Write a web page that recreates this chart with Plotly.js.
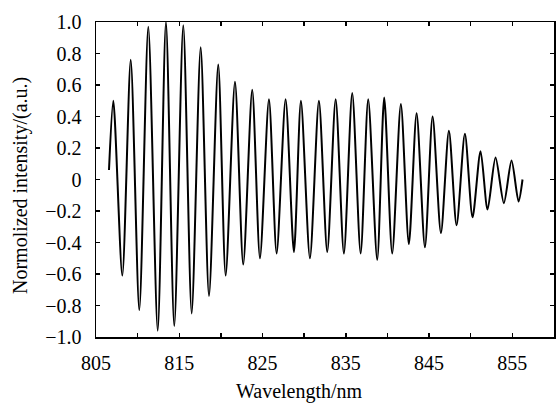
<!DOCTYPE html>
<html>
<head>
<meta charset="utf-8">
<script src="https://cdn.plot.ly/plotly-3.0.1.min.js"></script>
<style>html,body{margin:0;padding:0;background:#fff;}#chart{width:556px;height:403px;}</style>
</head>
<body>
<div id="chart"></div>
<script>
// Wavelength (nm) of sampled turning points along the fringe trace
var wavelength = [806.56, 807.08, 808.16, 809.17, 810.20, 811.28, 812.41, 813.40, 814.40, 815.48,
  816.49, 817.57, 818.57, 819.68, 820.57, 821.69, 822.68, 823.76, 824.69, 825.77,
  826.69, 827.77, 828.77, 829.61, 830.69, 831.77, 832.77, 833.78, 834.77, 835.77,
  836.78, 837.69, 838.77, 839.61, 840.57, 841.61, 842.57, 843.50, 844.50, 845.42,
  846.42, 847.38, 848.30, 849.30, 850.22, 851.18, 852.02, 852.98, 853.98, 854.90,
  855.74, 856.22];
// Normalized intensity (a.u.)
var intensity = [0.06, 0.50, -0.61, 0.76, -0.83, 0.97, -0.96, 1.00, -0.93, 0.98,
  -0.85, 0.84, -0.74, 0.73, -0.61, 0.62, -0.54, 0.57, -0.50, 0.51,
  -0.47, 0.51, -0.46, 0.50, -0.50, 0.50, -0.46, 0.51, -0.47, 0.55,
  -0.47, 0.51, -0.51, 0.52, -0.47, 0.48, -0.41, 0.42, -0.43, 0.40,
  -0.34, 0.31, -0.29, 0.29, -0.24, 0.18, -0.19, 0.14, -0.15, 0.12,
  -0.14, 0.00];

var xTickVals = [805, 810, 815, 820, 825, 830, 835, 840, 845, 850, 855, 860];
var xTickText = ['805', '', '815', '', '825', '', '835', '', '845', '', '855', ''];
var yTickVals = [-1.0, -0.8, -0.6, -0.4, -0.2, 0, 0.2, 0.4, 0.6, 0.8, 1.0];
var yTickText = ['\u22121.0', '\u22120.8', '\u22120.6', '\u22120.4', '\u22120.2', '0', '0.2', '0.4', '0.6', '0.8', '1.0'];
var xTitle = 'Wavelength/nm';
var yTitle = 'Normolized intensity/(a.u.)';

var font = {family: 'Liberation Serif, Times New Roman, serif', size: 20, color: '#000'};

var trace = {
  x: wavelength, y: intensity, type: 'scatter', mode: 'lines',
  line: {color: '#000', width: 2, shape: 'spline', smoothing: 0.75},
  hoverinfo: 'skip'
};

var axisCommon = {
  showline: true, linecolor: '#000', linewidth: 1.5, mirror: 'ticks',
  ticks: 'inside', ticklen: 4, tickwidth: 1.5, tickcolor: '#000',
  showgrid: false, zeroline: false, tickfont: font, tickmode: 'array'
};

var layout = {
  width: 556, height: 403,
  margin: {l: 96, r: 2, t: 22, b: 66},
  paper_bgcolor: '#fff', plot_bgcolor: '#fff',
  showlegend: false,
  font: font,
  xaxis: Object.assign({}, axisCommon, {
    range: [805, 860], tickvals: xTickVals, ticktext: xTickText, ticklabelstandoff: 7
  }),
  yaxis: Object.assign({}, axisCommon, {
    range: [-1.0, 1.0], tickvals: yTickVals, ticktext: yTickText, ticklabelstandoff: 9
  }),
  annotations: [
    {text: xTitle, xref: 'paper', yref: 'paper', x: 0.4454, y: -0.172,
     xanchor: 'center', yanchor: 'middle', showarrow: false, font: font},
    {text: yTitle, xref: 'paper', yref: 'paper', x: -0.166, y: 0.4825, textangle: -90,
     xanchor: 'center', yanchor: 'middle', showarrow: false, font: font}
  ]
};

Plotly.newPlot('chart', [trace], layout, {staticPlot: true, displayModeBar: false});
</script>
</body>
</html>
